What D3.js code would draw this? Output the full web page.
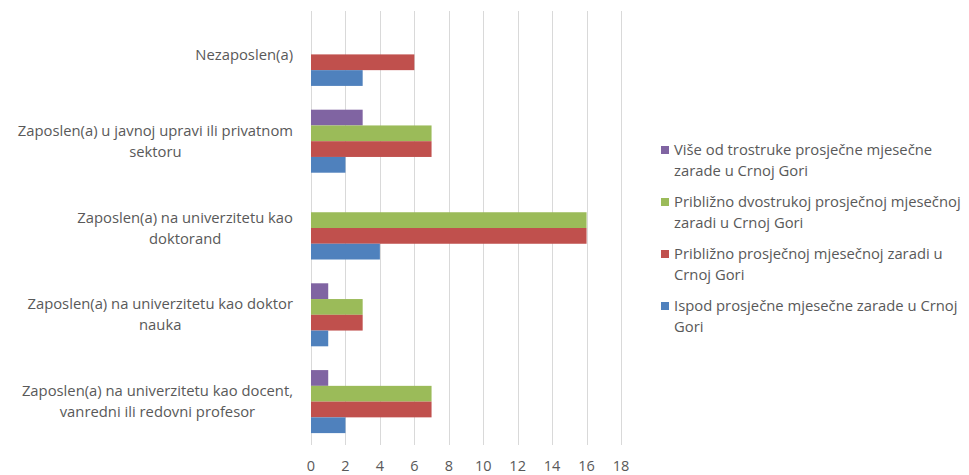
<!DOCTYPE html>
<html lang="sr">
<head>
    <meta charset="UTF-8">
    <title>Zarada po statusu zaposlenja</title>
    <script src="https://d3js.org/d3.v7.min.js"></script>
    <style>
        body { margin: 0; background: #fff; }
        svg { display: block; font-family: "Open Sans", "Noto Sans", sans-serif; }
        .grid line { stroke: #d9d9d9; stroke-width: 1; }
        .label { fill: #595959; font-size: 14.8px; }
    </style>
</head>
<body>
<svg width="969" height="475"></svg>
<script>
    // categories, top to bottom (line breaks as in the original)
    const categories = [
        "Nezaposlen(a)",
        "Zaposlen(a) u javnoj upravi ili privatnom\nsektoru",
        "Zaposlen(a) na univerzitetu kao\ndoktorand",
        "Zaposlen(a) na univerzitetu kao doktor\nnauka",
        "Zaposlen(a) na univerzitetu kao docent,\nvanredni ili redovni profesor"
    ];
    // series, in bar order inside each group (top to bottom)
    const seriesNames = [
        "Više od trostruke prosječne mjesečne\nzarade u Crnoj Gori",
        "Približno dvostrukoj prosječnoj mjesečnoj\nzaradi u Crnoj Gori",
        "Približno prosječnoj mjesečnoj zaradi u\nCrnoj Gori",
        "Ispod prosječne mjesečne zarade u Crnoj\nGori"
    ];
    const seriesColors = ["#8064a2", "#9bbb59", "#c0504d", "#4f81bd"];
    const visePlus   = [0, 3, 0, 1, 1];
    const dvostruko  = [0, 7, 16, 3, 7];
    const prosjecno  = [6, 7, 16, 3, 7];
    const ispod      = [3, 2, 4, 1, 2];
    const seriesValues = [visePlus, dvostruko, prosjecno, ispod];
    const xTicks = [0, 2, 4, 6, 8, 10, 12, 14, 16, 18];

    const svg = d3.select("svg");
    const plotLeft = 311, plotRight = 621, plotTop = 11, plotBottom = 445;

    const x = d3.scaleLinear().domain([0, 18]).range([plotLeft, plotRight]);
    const y = d3.scaleBand().domain(d3.range(categories.length)).range([plotTop, plotBottom]).paddingInner(0.274).paddingOuter(0.137);
    const yInner = d3.scaleBand().domain(d3.range(seriesNames.length)).range([0, y.bandwidth()]);

    // vertical gridlines
    svg.append("g").attr("class", "grid")
        .selectAll("line").data(xTicks).enter().append("line")
        .attr("x1", d => Math.round(x(d)) + 0.5).attr("x2", d => Math.round(x(d)) + 0.5)
        .attr("y1", plotTop).attr("y2", plotBottom);

    // tick labels
    svg.append("g").selectAll("text").data(xTicks).enter().append("text")
        .attr("class", "label")
        .attr("x", d => x(d)).attr("y", 470.5)
        .attr("text-anchor", "middle")
        .style("font-size", "14.5px")
        .text(d => d);

    // bars
    seriesValues.forEach(function(vals, s) {
        svg.append("g").selectAll("rect").data(vals).enter().append("rect")
            .attr("x", x(0))
            .attr("y", (d, i) => y(i) + yInner(s))
            .attr("width", d => x(d) - x(0))
            .attr("height", yInner.bandwidth())
            .attr("fill", seriesColors[s]);
    });

    // category labels: centred lines, block right-aligned to the axis
    const lineH = 21;
    categories.forEach(function(c, i) {
        const lines = c.split("\n");
        const g = svg.append("g");
        const cy = y(i) + y.bandwidth() / 2 - (lines.length - 1) * lineH / 2;
        const texts = g.selectAll("text").data(lines).enter().append("text")
            .attr("class", "label")
            .attr("y", (d, k) => cy + k * lineH)
            .attr("dy", "0.35em")
            .text(d => d);
        let w = 0;
        texts.each(function() { w = Math.max(w, this.getComputedTextLength()); });
        texts.attr("x", 293 - w / 2).attr("text-anchor", "middle");
    });

    // legend
    const legendTop = [150, 202, 254, 306];
    seriesNames.forEach(function(n, s) {
        const g = svg.append("g");
        g.append("rect").attr("x", 661).attr("y", legendTop[s] - 4)
            .attr("width", 8).attr("height", 8).attr("fill", seriesColors[s]);
        g.selectAll("text").data(n.split("\n")).enter().append("text")
            .attr("class", "label")
            .attr("x", 674)
            .attr("y", (d, k) => legendTop[s] + k * lineH)
            .attr("dy", "0.35em")
            .text(d => d);
    });
</script>
</body>
</html>
